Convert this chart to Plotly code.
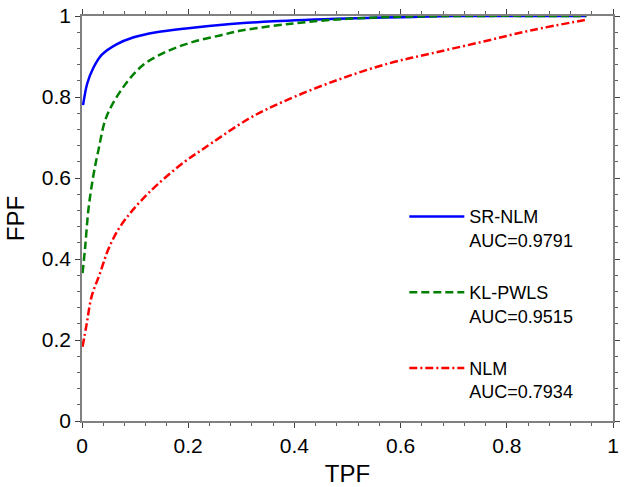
import plotly.graph_objects as go

# ROC curves
sr_nlm_x = [0.002, 0.01, 0.021, 0.037, 0.065, 0.096, 0.14, 0.2, 0.28, 0.36, 0.5, 0.6, 0.7, 0.8, 0.95]
sr_nlm_y = [0.78, 0.834, 0.871, 0.904, 0.93, 0.947, 0.96, 0.97, 0.98, 0.987, 0.994, 0.997, 1.0, 1.0, 1.0]

kl_pwls_x = [0.001, 0.006, 0.012, 0.021, 0.031, 0.046, 0.078, 0.115, 0.159, 0.209, 0.26, 0.3, 0.4, 0.5, 0.6, 0.7, 0.95]
kl_pwls_y = [0.365, 0.43, 0.521, 0.603, 0.669, 0.751, 0.825, 0.879, 0.912, 0.936, 0.952, 0.964, 0.982, 0.993, 0.998, 1.0, 1.0]

nlm_x = [0.001, 0.009, 0.018, 0.034, 0.049, 0.068, 0.09, 0.112, 0.143, 0.193, 0.225, 0.315,
         0.378, 0.481, 0.578, 0.659, 0.753, 0.847, 0.947]
nlm_y = [0.183, 0.241, 0.307, 0.365, 0.422, 0.472, 0.512, 0.545, 0.585, 0.640, 0.669, 0.747,
         0.788, 0.842, 0.883, 0.908, 0.936, 0.965, 0.99]

names = ["SR-NLM<br>AUC=0.9791", "KL-PWLS<br>AUC=0.9515", "NLM<br>AUC=0.7934"]

fig = go.Figure()
fig.add_trace(go.Scatter(x=sr_nlm_x, y=sr_nlm_y, mode="lines", name=names[0], legendgroup="a",
                         line=dict(color="#0000ff", width=2.5, shape="spline")))
fig.add_trace(go.Scatter(x=kl_pwls_x, y=kl_pwls_y, mode="lines", name=names[1], legendgroup="b",
                         line=dict(color="#008000", width=2.5, dash="8px,4px", shape="spline")))
fig.add_trace(go.Scatter(x=nlm_x, y=nlm_y, mode="lines", name=names[2], legendgroup="c",
                         line=dict(color="#ff0000", width=2.5, dash="8px,3px,2px,3px", shape="spline")))

axis_common = dict(
    range=[0, 1], dtick=0.2, showgrid=False, zeroline=False, automargin=False,
    showline=True, linecolor="#808080", linewidth=1.5, mirror="allticks",
    ticks="outside", ticklen=5, tickcolor="#404040", tickwidth=1,
    tickfont=dict(size=21, color="black"), ticklabeloverflow="allow",
    minor=dict(dtick=0.04, ticks="outside", ticklen=3, tickcolor="#606060"),
)

fig.update_xaxes(title=dict(text="TPF", font=dict(size=24, color="black")), **axis_common)
fig.update_yaxes(title=dict(text="FPF", font=dict(size=24, color="black")), **axis_common)

fig.update_layout(
    template="none",
    width=624, height=487,
    margin=dict(l=82, r=11, t=16, b=66),
    plot_bgcolor="white", paper_bgcolor="white",
    font=dict(family="Liberation Sans, Arial, sans-serif", color="black"),
    showlegend=True,
    legend=dict(x=0.607, y=0.55, xanchor="left", yanchor="top", font=dict(size=18),
                bgcolor="rgba(0,0,0,0)", tracegroupgap=26, valign="top", itemwidth=55),
)

# drop the browser's default 8px body margin so the figure fills the window
fig.write_html("out.html", config={"displayModeBar": False},
               post_script="document.body.style.margin='0';")
